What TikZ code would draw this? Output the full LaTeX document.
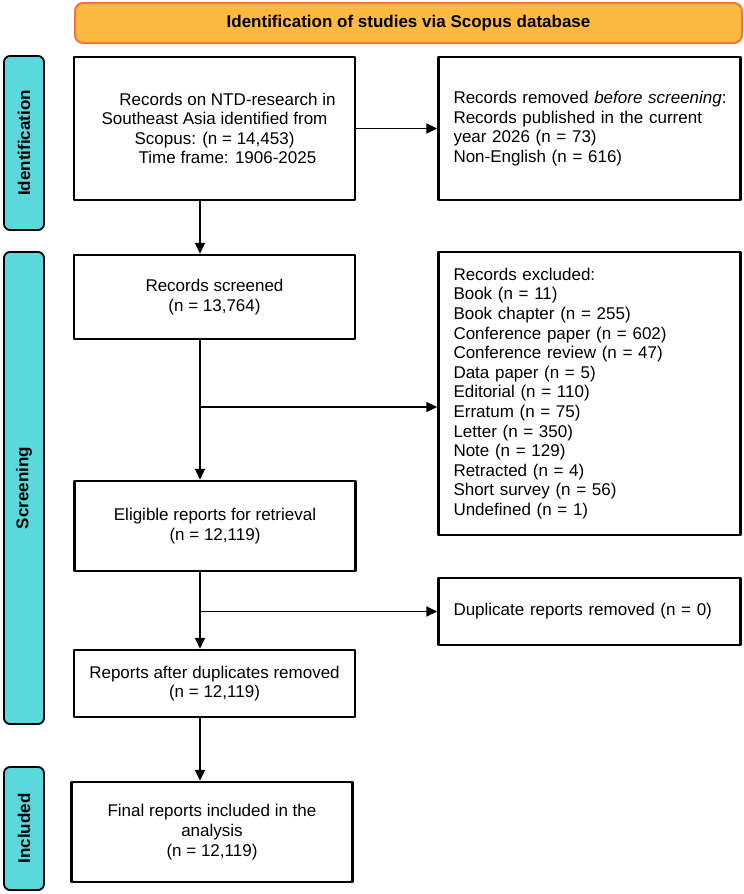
\documentclass[tikz,border=0pt]{standalone}
\usepackage{fontspec}
\setmainfont{Liberation Sans}
\usetikzlibrary{arrows.meta}
\definecolor{bannerfill}{HTML}{FDB940}
\definecolor{bannerline}{HTML}{EC783A}
\definecolor{tabfill}{HTML}{5AD8DC}
\begin{document}
\begin{tikzpicture}[x=1pt, y=-1pt, >={Triangle[length=11pt,width=10pt]}, line join=round,
	font=\fontsize{17pt}{19.6pt}\selectfont,
	banner/.style={draw=bannerline, fill=bannerfill, line width=2pt, rounded corners=8pt,
		minimum width=667pt, minimum height=40pt, font=\fontsize{17pt}{20pt}\selectfont\bfseries},
	tab/.style={draw, line width=1.8pt, fill=tabfill, rounded corners=6pt, rotate=90,
		minimum height=40pt, font=\fontsize{17pt}{20pt}\selectfont\bfseries},
	box/.style={draw, line width=2.5pt, align=center, inner sep=0pt, minimum width=281pt},
	sidebox/.style={draw, line width=2.5pt, align=left, text width=272pt, inner xsep=15pt, inner ysep=0pt},
	arr/.style={->, line width=1.8pt}]
	\useasboundingbox (0,0) rectangle (744,894);
	% header and phase tabs
	\node[banner] (head) at (408.5,23) {Identification of studies via Scopus database};
	\node[tab, minimum width=174pt] (tabid) at (24,143) {Identification};
	\node[tab, minimum width=472pt] (tabscr) at (24,488) {Screening};
	\node[tab, minimum width=123pt] (tabinc) at (24,828.5) {Included};
	% main column
	\node[box, minimum height=143pt] (ident) at (214.5,128.5)
		{\hspace*{26pt}Records on NTD-research in\\ Southeast Asia identified from\\
		 Scopus: (n = 14,453)\hspace*{3pt}\\ \hspace*{26pt}Time frame: 1906-2025};
	\node[box, minimum height=84pt] (screened) at (214.5,297) {Records screened\\ (n = 13,764)};
	\node[box, minimum height=90pt] (eligible) at (215,526) {Eligible reports for retrieval\\ (n = 12,119)};
	\node[box, minimum height=67pt] (reports) at (214.5,683.5) {Reports after duplicates removed\\ (n = 12,119)};
	\node[box, minimum height=100pt] (final) at (212,832) {Final reports included in the\\ analysis\\ (n = 12,119)};
	% side column
	\node[sidebox, minimum height=143pt] (removed) at (589.5,128.5)
		{\mbox{Records removed \textit{before screening}:}\\ Records published in the current\\
		 year 2026 (n = 73)\\ Non-English (n = 616)};
	\node[sidebox, minimum height=283pt] (excluded) at (589.5,393.5)
		{Records excluded:\\ Book (n = 11)\\ Book chapter (n = 255)\\ Conference paper (n = 602)\\
		 Conference review (n = 47)\\ Data paper (n = 5)\\ Editorial (n = 110)\\ Erratum (n = 75)\\
		 Letter (n = 350)\\ Note (n = 129)\\ Retracted (n = 4)\\ Short survey (n = 56)\\ Undefined (n = 1)};
	\node[sidebox, minimum height=67pt] (dup) at (589.5,611.5) {Duplicate reports removed (n = 0)};
	% flow lines
	\coordinate (spine) at (200,0);
	\coordinate (cut1) at (200,407);
	\coordinate (cut2) at (200,611.5);
	\draw[arr] (ident.east) -- (removed.west);
	\draw[arr] (ident.south -| spine) -- (screened.north -| spine);
	\draw[arr] (screened.south -| spine) -- (eligible.north -| spine);
	\draw[arr] (cut1) -- (cut1 -| excluded.west);
	\draw[arr] (eligible.south -| spine) -- (reports.north -| spine);
	\draw[arr] (cut2) -- (dup.west);
	\draw[arr] (reports.south -| spine) -- (final.north -| spine);
\end{tikzpicture}
\end{document}
